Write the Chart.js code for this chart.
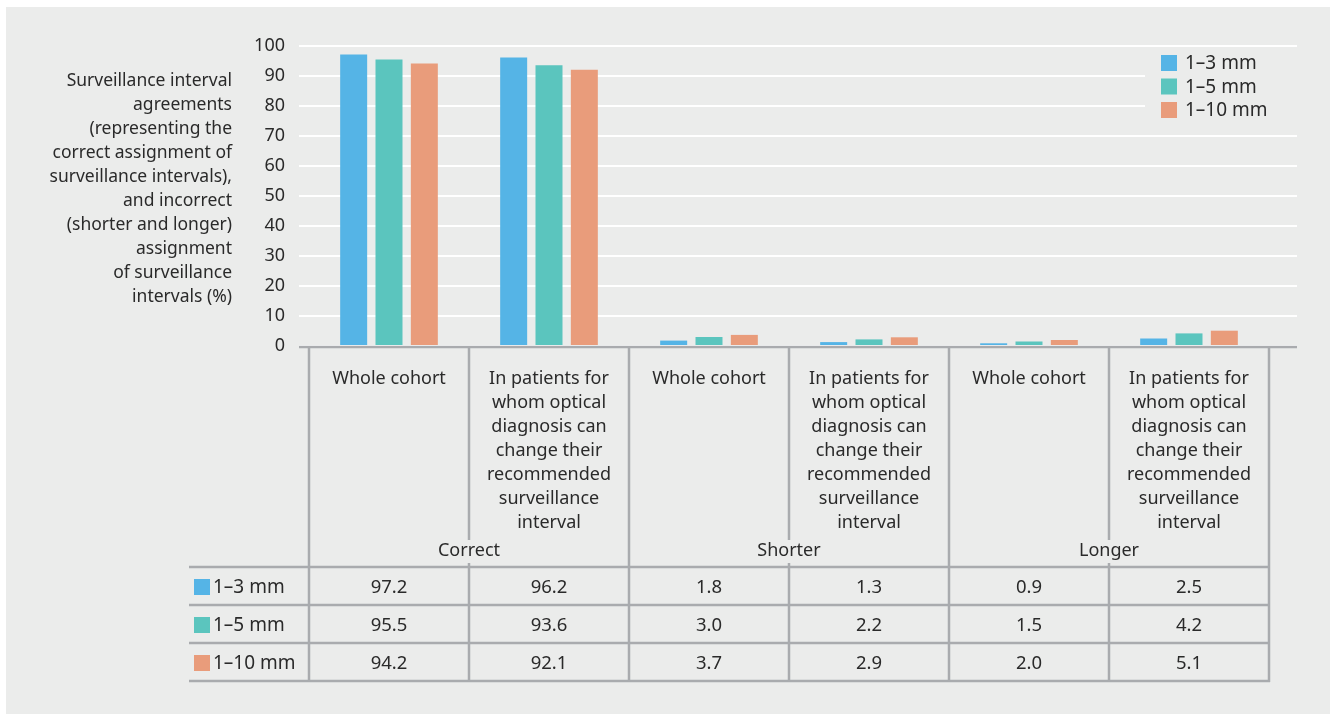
<!DOCTYPE html>
<html>
<head>
<meta charset="utf-8">
<script src="https://cdn.jsdelivr.net/npm/chart.js@4.4.1/dist/chart.umd.min.js"></script>
<style>
  html, body { margin: 0; padding: 0; background: #ffffff; }
  #wrap { width: 1332px; height: 714px; position: relative; }
</style>
</head>
<body>
<div id="wrap"><canvas id="c" width="1332" height="714"></canvas></div>
<script>
// ---- data ----
const categories = [
  ['Whole cohort'],
  ['In patients for', 'whom optical', 'diagnosis can', 'change their', 'recommended', 'surveillance', 'interval'],
  ['Whole cohort'],
  ['In patients for', 'whom optical', 'diagnosis can', 'change their', 'recommended', 'surveillance', 'interval'],
  ['Whole cohort'],
  ['In patients for', 'whom optical', 'diagnosis can', 'change their', 'recommended', 'surveillance', 'interval']
];
const groups = ['Correct', 'Shorter', 'Longer'];
const seriesNames = ['1\u20133 mm', '1\u20135 mm', '1\u201310 mm'];
const values_1_3 = [97.2, 96.2, 1.8, 1.3, 0.9, 2.5];
const values_1_5 = [95.5, 93.6, 3.0, 2.2, 1.5, 4.2];
const values_1_10 = [94.2, 92.1, 3.7, 2.9, 2.0, 5.1];
const yTicks = [0, 10, 20, 30, 40, 50, 60, 70, 80, 90, 100];
const yTitle = [
  'Surveillance interval',
  'agreements',
  '(representing the',
  'correct assignment of',
  'surveillance intervals),',
  'and incorrect',
  '(shorter and longer)',
  'assignment',
  'of surveillance',
  'intervals (%)'
];

// ---- styles ----
const colors = ['#55b4e6', '#5bc5be', '#e99c7b'];
const FONT = '"Noto Sans", sans-serif';
const TEXT = '#2a2a2a';
const PANEL = '#ebeceb';
const LINE = '#a9abae';

const allSeries = [values_1_3, values_1_5, values_1_10];

const decor = {
  id: 'decor',
  beforeDraw(chart) {
    const ctx = chart.ctx;
    ctx.save();
    ctx.fillStyle = '#ffffff';
    ctx.fillRect(0, 0, chart.width, chart.height);
    ctx.fillStyle = PANEL;
    ctx.fillRect(6, 7, 1324, 707);
    const y = chart.scales.y;
    const ca = chart.chartArea;
    ctx.strokeStyle = '#ffffff';
    ctx.lineWidth = 2;
    yTicks.forEach(t => {
      const py = Math.round(y.getPixelForValue(t));
      ctx.beginPath();
      ctx.moveTo(ca.right - 1, py);
      ctx.lineTo(1297, py);
      ctx.stroke();
    });
    ctx.fillStyle = TEXT;
    ctx.font = '17.5px ' + FONT;
    ctx.textAlign = 'right';
    ctx.textBaseline = 'middle';
    yTitle.forEach((s, i) => ctx.fillText(s, 232, 81 + i * 24));
    ctx.restore();
  },
  afterDatasetsDraw(chart) {
    const ctx = chart.ctx;
    const x = chart.scales.x;
    const y = chart.scales.y;
    const ca = chart.chartArea;
    ctx.save();
    ctx.fillStyle = PANEL;
    ctx.fillRect(1145, 49, 155, 76);
    ctx.font = '19px ' + FONT;
    ctx.textAlign = 'left';
    ctx.textBaseline = 'middle';
    seriesNames.forEach((n, i) => {
      const cy = 63 + i * 23.5;
      ctx.fillStyle = colors[i];
      ctx.fillRect(1161, cy - 8, 16, 16);
      ctx.fillStyle = TEXT;
      ctx.fillText(n, 1185, cy + 1);
    });

    const y0 = y.getPixelForValue(0);
    ctx.strokeStyle = LINE;
    ctx.lineWidth = 2.5;
    ctx.beginPath();
    ctx.moveTo(299, y0 + 1);
    ctx.lineTo(1297, y0 + 1);
    ctx.stroke();

    const colW = (ca.right - ca.left) / categories.length;
    const rowTop = 567, rowH = 38;
    const tableBottom = rowTop + rowH * 3;
    ctx.lineWidth = 2.5;
    for (let r = 0; r <= 3; r++) {
      const py = rowTop + r * rowH;
      ctx.beginPath();
      ctx.moveTo(189, py);
      ctx.lineTo(ca.right + 1, py);
      ctx.stroke();
    }
    for (let i = 0; i <= categories.length; i++) {
      const px = ca.left + i * colW;
      ctx.beginPath();
      if (i % 2 === 1) {
        ctx.moveTo(px, y0 + 1);
        ctx.lineTo(px, 540);
        ctx.moveTo(px, 563);
        ctx.lineTo(px, tableBottom + 1);
      } else {
        ctx.moveTo(px, y0 + 1);
        ctx.lineTo(px, tableBottom + 1);
      }
      ctx.stroke();
    }
    ctx.fillStyle = TEXT;
    ctx.font = '18px ' + FONT;
    ctx.textAlign = 'center';
    ctx.textBaseline = 'middle';
    categories.forEach((lines, i) => {
      const cx = x.getPixelForValue(i);
      lines.forEach((s, j) => ctx.fillText(s, cx, 379 + j * 24));
    });
    groups.forEach((g, k) => {
      const gx = ca.left + (2 * k + 1) * colW;
      ctx.fillText(g, gx, 551);
    });
    allSeries.forEach((vals, r) => {
      const cy = rowTop + r * rowH + rowH / 2 + 1;
      ctx.fillStyle = colors[r];
      ctx.fillRect(194, cy - 8, 16, 16);
      ctx.fillStyle = TEXT;
      ctx.textAlign = 'left';
      ctx.font = '19px ' + FONT;
      ctx.fillText(seriesNames[r], 213, cy + 1);
      ctx.textAlign = 'center';
      ctx.font = '18.5px ' + FONT;
      vals.forEach((v, i) => ctx.fillText(v.toFixed(1), x.getPixelForValue(i), cy + 1));
    });
    ctx.restore();
  }
};

new Chart(document.getElementById('c'), {
  type: 'bar',
  data: {
    labels: categories.map(l => l.join(' ')),
    datasets: seriesNames.map((n, i) => ({
      label: n,
      data: allSeries[i],
      backgroundColor: colors[i],
      borderWidth: 0,
      categoryPercentage: 0.6625,
      barPercentage: 0.764
    }))
  },
  options: {
    responsive: false,
    animation: false,
    events: [],
    layout: { padding: { left: 0, right: 63, top: 46, bottom: 368 } },
    plugins: { legend: { display: false }, tooltip: { enabled: false } },
    scales: {
      x: { display: false },
      y: {
        min: 0, max: 100,
        afterFit(scale) { scale.width = 309; },
        afterBuildTicks(scale) { scale.ticks = yTicks.map(v => ({ value: v })); },
        grid: { color: '#ffffff', lineWidth: 2, tickLength: 10, drawTicks: true, tickColor: '#ffffff' },
        border: { display: false },
        ticks: { color: TEXT, font: { family: FONT, size: 18 }, padding: 14 }
      }
    }
  },
  plugins: [decor]
});
</script>
</body>
</html>
